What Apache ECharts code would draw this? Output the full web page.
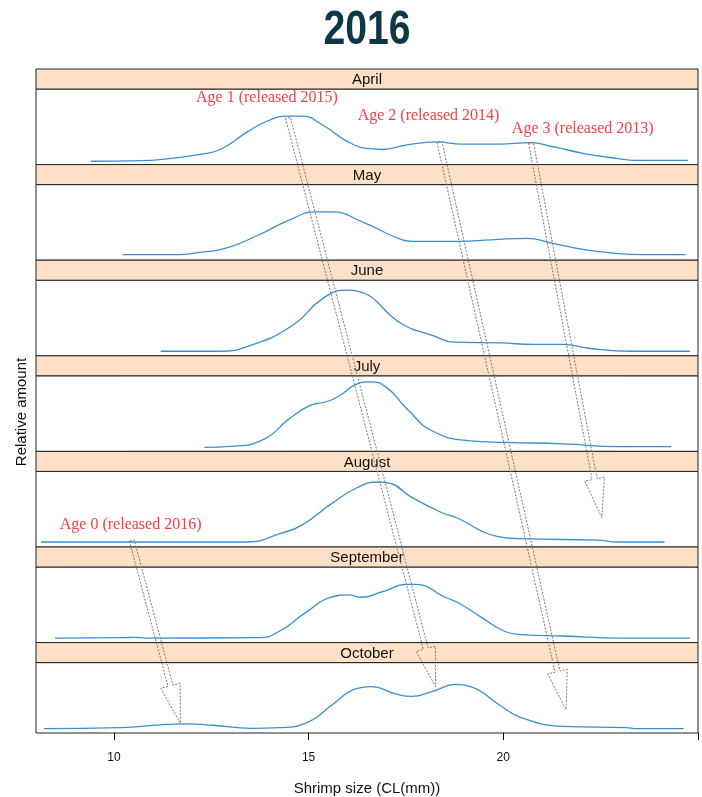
<!DOCTYPE html>
<html><head><meta charset="utf-8">
<script src="https://cdn.jsdelivr.net/npm/echarts@6/dist/echarts.min.js"></script>
<style>html,body{margin:0;padding:0;background:#fff}#c{width:702px;height:797px}</style>
</head><body><div id="c"></div>
<script>
// ---- data (x = shrimp size CL mm, y = relative amount within panel) ----
const months = ['April','May','June','July','August','September','October'];
const xTicks = [10, 15, 20];
const april = [[9.41,0.044],[10.5,0.05],[11.25,0.07],[12.33,0.146],[12.77,0.21],[13.42,0.43],[13.96,0.58],[14.45,0.64],[14.83,0.64],[15.37,0.52],[16.02,0.30],[16.56,0.21],[16.88,0.20],[17.53,0.26],[18.29,0.30],[18.94,0.27],[19.92,0.27],[20.68,0.29],[21.33,0.23],[22.08,0.146],[22.95,0.08],[23.38,0.057],[24.74,0.057]];
const may = [[10.22,0.075],[11.68,0.075],[12.12,0.097],[12.88,0.16],[13.74,0.34],[14.5,0.53],[15.2,0.64],[15.58,0.64],[16.45,0.49],[17.21,0.31],[17.64,0.25],[18.83,0.25],[19.7,0.27],[20.62,0.29],[21.22,0.23],[22.08,0.14],[22.95,0.088],[23.6,0.075],[24.68,0.075]];
const june = [[11.2,0.06],[12.71,0.06],[13.53,0.14],[14.61,0.41],[15.37,0.76],[16.02,0.87],[16.23,0.86],[17.43,0.41],[18.18,0.27],[18.73,0.18],[19.92,0.17],[20.78,0.15],[21.54,0.15],[22.19,0.10],[23.28,0.06],[24.79,0.06]];
const july = [[12.33,0.053],[12.98,0.066],[13.85,0.16],[14.5,0.43],[15.04,0.61],[15.48,0.66],[15.8,0.74],[16.23,0.89],[16.56,0.92],[16.99,0.85],[17.53,0.56],[18.18,0.27],[19.16,0.14],[20.03,0.12],[21.54,0.10],[22.95,0.062],[24.31,0.062]];
const august = [[8.13,0.066],[13.42,0.066],[14.28,0.18],[14.83,0.29],[15.58,0.57],[16.23,0.78],[16.78,0.86],[17.1,0.84],[17.64,0.66],[18.4,0.46],[18.83,0.38],[19.81,0.145],[20.46,0.11],[22.41,0.09],[22.95,0.066],[24.14,0.066]];
const september = [[8.49,0.06],[10.28,0.065],[10.5,0.07],[10.82,0.06],[13.74,0.065],[14.28,0.16],[14.93,0.40],[15.58,0.60],[16.02,0.63],[16.34,0.60],[16.88,0.67],[17.53,0.77],[17.75,0.77],[18.51,0.60],[18.83,0.53],[19.48,0.32],[20.03,0.15],[20.46,0.105],[21.54,0.087],[23.06,0.06],[24.79,0.06]];
const october = [[8.2,0.062],[10.17,0.075],[11.25,0.12],[11.9,0.13],[12.55,0.11],[13.53,0.066],[14.28,0.075],[15.04,0.17],[15.58,0.39],[16.23,0.63],[16.61,0.66],[17.21,0.56],[17.64,0.52],[18.18,0.59],[18.78,0.69],[19.16,0.66],[19.92,0.39],[20.46,0.22],[21.54,0.093],[23.17,0.075],[23.38,0.062],[24.63,0.062]];
const monthData = [april, may, june, july, august, september, october];
// annotations: [text, panel, x, y]
const ageLabels = [['Age 1 (released 2015)',0,13.93,0.88],['Age 2 (released 2014)',0,18.08,0.64],['Age 3 (released 2013)',0,22.04,0.48],['Age 0 (released 2016)',4,10.43,0.30]];
// arrows: [fromPanel, fromX, fromY, toPanel, toX, toY]
const cohortArrows = [[0,14.47,0.62,6,18.26,0.66],[0,18.36,0.30,6,21.61,0.33],[0,20.71,0.29,4,22.53,0.39],[4,10.46,0.087,6,11.71,0.135]];

// ---- layout ----
const X0 = 36, W = 662, TOP = 69, PANEL = 95.6, STRIP = 20, CH = PANEL - STRIP;
const chart = echarts.init(document.getElementById('c'));
const grids = [], xAxes = [], yAxes = [], series = [];
months.forEach((m, i) => {
  const last = i === months.length - 1;
  grids.push({left: X0, width: W, top: TOP + i*PANEL + STRIP, height: CH, show: true, borderColor: '#222', borderWidth: 1, backgroundColor: '#fff'});
  xAxes.push({type: 'value', gridIndex: i, min: 8, max: 25, splitLine: {show: false}, axisLine: {show: false},
    axisTick: {show: last, length: 7, inside: false, lineStyle: {color: '#000'}, customValues: xTicks.concat([25])},
    axisLabel: {show: last, margin: 19, color: '#111', fontSize: 12, fontFamily: 'Liberation Sans, Arial', customValues: xTicks},
    name: last ? 'Shrimp size (CL(mm))' : '', nameLocation: 'middle', nameGap: 48,
    nameTextStyle: {fontSize: 15, color: '#111', fontFamily: 'Liberation Sans, Arial'}});
  yAxes.push({type: 'value', gridIndex: i, min: 0, max: 1, show: false});
  series.push({type: 'line', xAxisIndex: i, yAxisIndex: i, data: monthData[i], smooth: 0.5, showSymbol: false,
    lineStyle: {color: '#3a8fd3', width: 1.3}, silent: true});
});
chart.setOption({animation: false, grid: grids, xAxis: xAxes, yAxis: yAxes, series: series});

const g = [];
g.push({type: 'text', x: 367, y: 30, scaleX: 0.8, z: 50, style: {text: '2016', fontSize: 49, fontWeight: 'bold', fontFamily: 'Liberation Sans, Arial', fill: '#0c3847', textAlign: 'center', textVerticalAlign: 'middle'}});
g.push({type: 'text', x: 22, y: 412, rotation: Math.PI/2, z: 50, style: {text: 'Relative amount', fontSize: 15, fontFamily: 'Liberation Sans, Arial', fill: '#111', textAlign: 'center', textVerticalAlign: 'middle'}});
months.forEach((m, i) => {
  const y = TOP + i*PANEL;
  g.push({type: 'rect', z: 10, shape: {x: X0, y: y, width: W, height: STRIP}, style: {fill: '#fde0c6', stroke: '#222', lineWidth: 1}});
  g.push({type: 'text', z: 11, x: X0 + W/2, y: y + STRIP/2 + 1, style: {text: m, fontSize: 15, fontFamily: 'Liberation Sans, Arial', fill: '#111', textAlign: 'center', textVerticalAlign: 'middle'}});
});
function px(panel, x, y) { return chart.convertToPixel({gridIndex: panel}, [x, y]); }
cohortArrows.forEach(a => {
  const S = px(a[0], a[1], a[2]), T = px(a[3], a[4], a[5]);
  const dx = T[0]-S[0], dy = T[1]-S[1], len = Math.hypot(dx, dy);
  const ux = dx/len, uy = dy/len, nx = -uy, ny = ux;
  const w = 2.5, L = 39, H = 10;
  const B = [T[0]-ux*L, T[1]-uy*L];
  const pts = [[S[0]+nx*w, S[1]+ny*w],[B[0]+nx*w, B[1]+ny*w],[B[0]+nx*H, B[1]+ny*H],T,[B[0]-nx*H, B[1]-ny*H],[B[0]-nx*w, B[1]-ny*w],[S[0]-nx*w, S[1]-ny*w]];
  g.push({type: 'polygon', z: 100, shape: {points: pts}, style: {fill: 'none', stroke: '#7a7a7a', lineWidth: 1, lineDash: [2, 1.5]}});
});
ageLabels.forEach(l => {
  const p = px(l[1], l[2], l[3]);
  g.push({type: 'text', z: 101, x: p[0], y: p[1], style: {text: l[0], fontSize: 16, fontFamily: 'Liberation Serif, DejaVu Serif, serif', fill: '#fb3c44', textAlign: 'center', textVerticalAlign: 'middle'}});
});
chart.setOption({graphic: g});
</script>
</body></html>
